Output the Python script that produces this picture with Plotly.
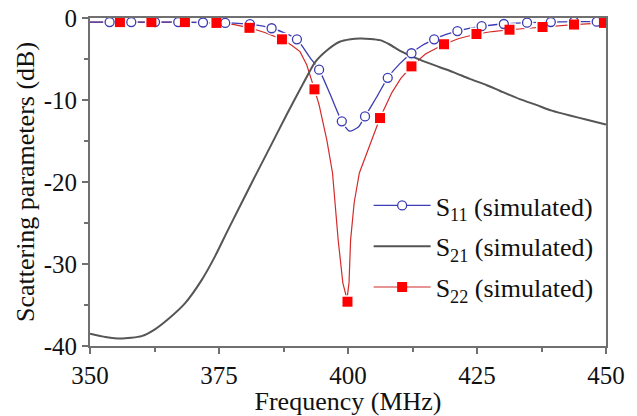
import plotly.graph_objects as go

# ---- S21 (simulated), dense trace
s21_freq = [350, 353, 356, 360, 362.5, 365, 368.4, 371.6, 374.2, 376.7, 379.1,
            381.5, 384.2, 388.1, 391.3, 393.6, 396, 398.4, 400.5, 402.3, 404.3,
            406.2, 408, 410.1, 414, 417.8, 420.4, 423.5, 426.9, 429.5, 433.3,
            436.5, 439.5, 443, 446.3, 450]
s21_db = [-38.5, -38.9, -39.1, -38.8, -38.0, -36.8, -34.8, -32.0, -29.1, -25.9, -22.9,
          -19.9, -16.6, -11.8, -8.0, -5.4, -3.9, -2.9, -2.6, -2.5, -2.55,
          -2.7, -3.2, -4.0, -5.1, -6.0, -6.6, -7.4, -8.2, -8.9, -9.9,
          -10.6, -11.3, -11.9, -12.4, -13.0]

# ---- S11 (simulated), dense trace
s11_freq = [350, 353.8, 358.0, 362.6, 367.1, 371.9, 376.2, 381.0, 385.2, 388, 390.1,
            392.6, 394.4, 396.6, 398.8, 400.3, 402, 403.3, 405.5, 407.7, 410, 412.3,
            414.5, 416.7, 419, 421.2, 425.9, 430.2, 434.7, 439.3, 443.8, 448.2, 450]
s11_db = [-0.5, -0.5, -0.5, -0.5, -0.5, -0.55, -0.6, -0.75, -1.25, -1.9, -2.6,
          -4.8, -6.3, -9.4, -12.6, -13.8, -13.3, -12.0, -9.7, -7.3, -5.6, -4.3,
          -3.3, -2.6, -2.0, -1.6, -1.0, -0.73, -0.57, -0.49, -0.45, -0.45, -0.45]

# S11 marker points
s11_mk_freq = [353.8, 358.0, 362.6, 367.1, 371.9, 376.2, 381.0, 385.2, 390.1, 394.4,
               398.8, 403.3, 407.7, 412.3, 416.7, 421.2, 425.9, 430.2, 434.7, 439.3,
               443.8, 448.2]
s11_mk_db = [-0.5, -0.5, -0.5, -0.5, -0.55, -0.6, -0.75, -1.25, -2.6, -6.3,
             -12.6, -12.0, -7.3, -4.3, -2.6, -1.6, -1.0, -0.73, -0.57, -0.49,
             -0.45, -0.45]

# ---- S22 (simulated), dense trace
s22_freq = [350, 355.8, 361.9, 368.4, 374.5, 378, 380.9, 384, 387.2, 389, 390.7,
            392.0, 393.5, 394.4, 395.9, 397.0, 398.1, 399.0, 399.8, 400.2, 400.5,
            401.2, 402.2, 403.4, 404.6, 406.2, 408.5, 410.2, 412.3, 415, 418.6,
            421.5, 424.9, 428, 431.3, 437.7, 443.8, 449.6, 450]
s22_db = [-0.5, -0.5, -0.5, -0.5, -0.6, -0.8, -1.2, -1.8, -2.6, -3.3, -4.1,
          -5.7, -8.7, -10.6, -14.9, -18.9, -27.1, -32.3, -34.3, -32.3, -27.1,
          -22.5, -18.9, -16.9, -14.9, -12.2, -9.1, -7.4, -5.9, -4.4, -3.2,
          -2.5, -1.95, -1.65, -1.43, -1.1, -0.8, -0.6, -0.6]

# S22 marker points
s22_mk_freq = [355.8, 361.9, 368.4, 374.5, 380.9, 387.2, 393.5, 399.9, 406.2, 412.3,
               418.6, 424.9, 431.3, 437.7, 443.8, 449.6]
s22_mk_db = [-0.5, -0.5, -0.5, -0.6, -1.2, -2.6, -8.7, -34.6, -12.2, -5.9,
             -3.2, -1.95, -1.43, -1.1, -0.8, -0.6]

x_ticks = [350, 375, 400, 425, 450]
y_ticks = [0, -10, -20, -30, -40]

BLUE = "#3c3cb4"
GRAY = "#555555"
RED_LINE = "#d42a2a"
RED_MK = "#ff0000"
FONT = "Liberation Serif"

fig = go.Figure()

# curves
fig.add_trace(go.Scatter(x=s22_freq, y=s22_db, mode="lines",
                         line=dict(color=RED_LINE, width=1.2), showlegend=False,
                         hoverinfo="skip"))
fig.add_trace(go.Scatter(x=s11_freq, y=s11_db, mode="lines", line_shape="spline",
                         line=dict(color=BLUE, width=1.3, smoothing=0.6),
                         showlegend=False, hoverinfo="skip"))

# white halos so each curve breaks around its own symbols
fig.add_trace(go.Scatter(x=s11_mk_freq, y=s11_mk_db, mode="markers",
                         marker=dict(symbol="circle", size=13, color="white"),
                         showlegend=False, hoverinfo="skip"))
fig.add_trace(go.Scatter(x=s22_mk_freq, y=s22_mk_db, mode="markers",
                         marker=dict(symbol="square", size=13, color="white"),
                         showlegend=False, hoverinfo="skip"))

fig.add_trace(go.Scatter(x=s21_freq, y=s21_db, mode="lines", line_shape="spline",
                         line=dict(color=GRAY, width=2, smoothing=0.6),
                         showlegend=False, hoverinfo="skip"))

# symbols
fig.add_trace(go.Scatter(x=s11_mk_freq, y=s11_mk_db, mode="markers",
                         marker=dict(symbol="circle", size=9, color="white",
                                     line=dict(color=BLUE, width=1.3)),
                         showlegend=False))
fig.add_trace(go.Scatter(x=s22_mk_freq, y=s22_mk_db, mode="markers",
                         marker=dict(symbol="square", size=10, color=RED_MK,
                                     line=dict(width=0)),
                         showlegend=False))

# legend entries
fig.add_trace(go.Scatter(x=[None], y=[None], mode="lines+markers",
                         name="S<sub>11</sub> (simulated)", legendgroup="a",
                         line=dict(color=BLUE, width=1.3),
                         marker=dict(symbol="circle", size=9, color="white",
                                     line=dict(color=BLUE, width=1.3))))
fig.add_trace(go.Scatter(x=[None], y=[None], mode="lines",
                         name="S<sub>21</sub> (simulated)", legendgroup="b",
                         line=dict(color=GRAY, width=2)))
fig.add_trace(go.Scatter(x=[None], y=[None], mode="lines+markers",
                         name="S<sub>22</sub> (simulated)", legendgroup="c",
                         line=dict(color=RED_LINE, width=1.2),
                         marker=dict(symbol="square", size=10, color=RED_MK)))

axis_common = dict(
    showline=True, linecolor="#707070", linewidth=2, mirror=True,
    ticks="outside", ticklen=6, tickwidth=1.5, tickcolor="#707070",
    showgrid=False, zeroline=False, automargin=False,
    tickfont=dict(family=FONT, size=25, color="#111111"),
    minor=dict(ticks="outside", ticklen=4, tickwidth=1.5, tickcolor="#707070",
               showgrid=False),
)

fig.update_xaxes(range=[350, 450], tickvals=x_ticks, ticktext=[str(v) for v in x_ticks],
                 minor_dtick=12.5,
                 title=dict(text="Frequency (MHz)", standoff=12,
                            font=dict(family=FONT, size=26, color="#111111")),
                 **axis_common)
fig.update_yaxes(range=[-40, 0], tickvals=y_ticks, ticktext=[str(v) for v in y_ticks],
                 minor_dtick=5,
                 title=dict(text="Scattering parameters (dB)", standoff=2,
                            font=dict(family=FONT, size=26, color="#111111")),
                 **axis_common)

fig.update_layout(
    width=637, height=416,
    margin=dict(l=90, r=31, t=18, b=70),
    paper_bgcolor="white", plot_bgcolor="white",
    font=dict(family=FONT, color="#111111"),
    legend=dict(x=0.54, y=0.5, xanchor="left", yanchor="top",
                bgcolor="rgba(0,0,0,0)", tracegroupgap=4, itemwidth=57,
                font=dict(family=FONT, size=26, color="#111111")),
)

fig.write_html("out.html")
